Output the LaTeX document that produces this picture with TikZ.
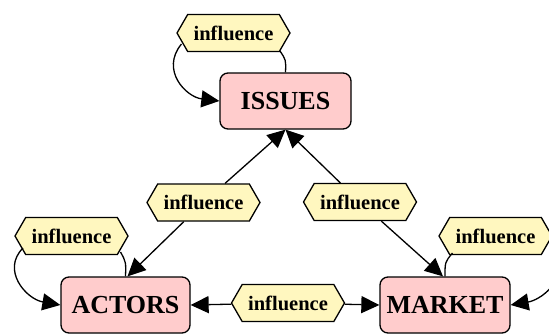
\documentclass[tikz,border=0pt]{standalone}
\usepackage{fontspec}
\setmainfont{Liberation Serif}
\usetikzlibrary{shapes.symbols,arrows.meta}
\definecolor{boxpink}{HTML}{FFCCCC}
\definecolor{hexyellow}{HTML}{FFF7BF}
\tikzset{
  topic/.style={draw=black, line width=1.3pt, fill=boxpink, rounded corners=8pt,
    minimum height=56pt, inner sep=0pt, font=\fontsize{26}{28}\selectfont\bfseries},
  infl/.style={draw=black, line width=1.3pt, fill=hexyellow, shape=signal,
    signal to=west and east, signal pointer angle=120, minimum width=113pt,
    minimum height=37pt, inner sep=0pt, font=\fontsize{20.5}{22}\selectfont\bfseries},
  link/.style={line width=1.3pt},
  arr/.style={line width=1.3pt, -{Triangle[length=18pt,width=17pt]}},
}
\begin{document}
\begin{tikzpicture}[x=1pt,y=-1pt]
\useasboundingbox (0,0) rectangle (549,333);
\clip (0,0) rectangle (549,333);
% main nodes
\node[topic, minimum width=131pt] (issues) at (285.5,101) {ISSUES};
\node[topic, minimum width=129pt] (actors) at (125.5,305) {ACTORS};
\node[topic, minimum width=130pt] (market) at (445,305) {MARKET};
% influence hexagons
\node[infl] (h0) at (233.5,33) {influence};
\node[infl] (h1) at (203.5,202.5) {influence};
\node[infl] (h2) at (360,202) {influence};
\node[infl] (h3) at (71.5,236) {influence};
\node[infl] (h4) at (495.5,236) {influence};
\node[infl] (h5) at (288,303) {influence};
% self loops
\draw[arr] ([shift={(-52,11)}]h0.center) .. controls (160,70) and (186,97) .. (issues.west);
\draw[link] ([shift={(46.5,18)}]h0.center) .. controls (286,60) .. (issues.north);
\draw[arr] ([shift={(-48.5,12)}]h3.center) .. controls (1,270) and (26,299) .. (actors.west);
\draw[link] ([shift={(49,16)}]h3.center) .. controls (126,262) .. (actors.north);
\draw[link] ([shift={(-43,17)}]h4.center) .. controls (445,262) .. (market.north);
\coordinate (h4loop) at ([shift={(60,22)}]h4.center);
\draw[arr] (h4loop) .. controls (566,282) and (540,300) .. (market.east);
% pairwise
\draw[arr] (h1) -- (issues.south);
\draw[arr] (h1) -- ([xshift=2pt]actors.north);
\draw[arr] (h2) -- (issues.south);
\draw[arr] (h2) -- ([xshift=-2pt]market.north);
\draw[arr] (h5) -- (actors.east);
\draw[arr] (h5) -- (market.west);
\end{tikzpicture}
\end{document}
